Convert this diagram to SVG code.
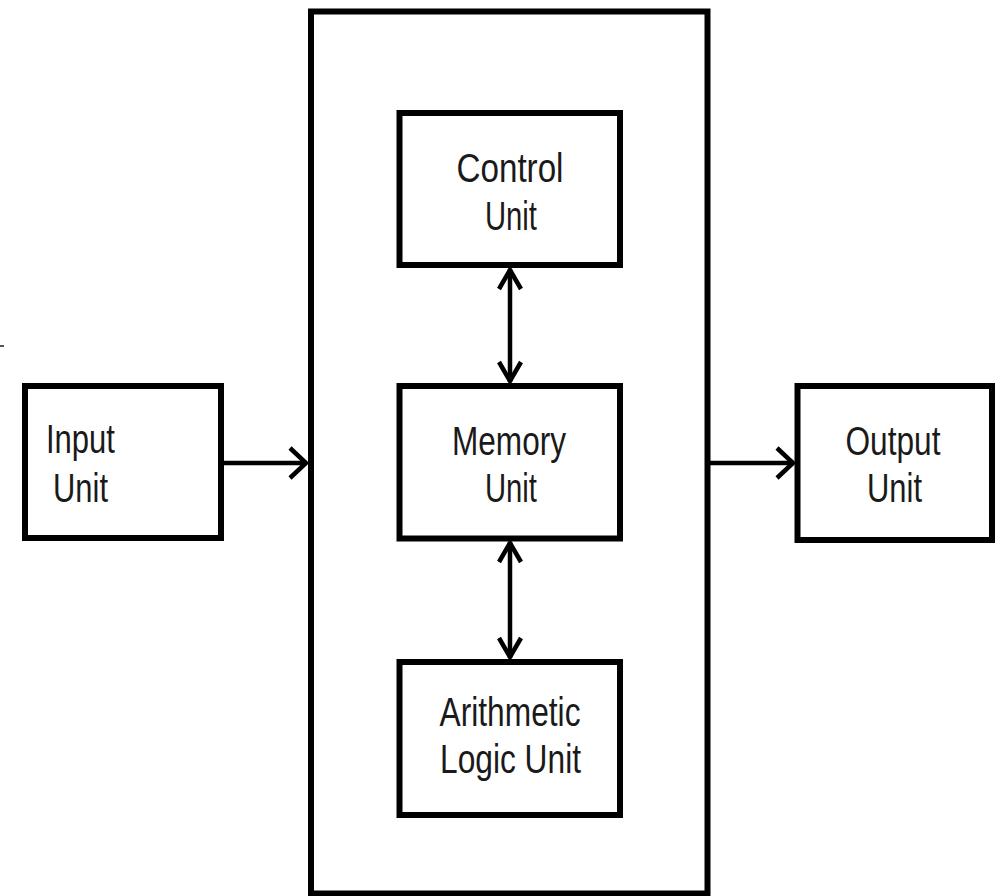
<svg xmlns="http://www.w3.org/2000/svg" width="995" height="896" viewBox="0 0 995 896">
  <style>
    .box { fill: #ffffff; stroke: #000000; stroke-width: 6; }
    .link { fill: none; stroke: #000000; stroke-width: 4.5; }
    .lbl { font-family: "Liberation Sans", Arial, sans-serif; font-size: 41px; fill: #1a1a1a; text-anchor: middle; }
  </style>
  <defs>
    <!-- open chevron heads -->
    <marker id="headH" markerUnits="userSpaceOnUse" viewBox="0 0 22 34" refX="20" refY="17" markerWidth="22" markerHeight="34" orient="auto-start-reverse">
      <path d="M3,2 L19,17 L3,32" fill="none" stroke="#000" stroke-width="4.5" stroke-linejoin="miter"/>
    </marker>
    <marker id="headV" markerUnits="userSpaceOnUse" viewBox="0 0 24 26" refX="22" refY="13" markerWidth="24" markerHeight="26" orient="auto-start-reverse">
      <path d="M2,2 L21,13 L2,24" fill="none" stroke="#000" stroke-width="4.5" stroke-linejoin="miter"/>
    </marker>
  </defs>

  <rect width="995" height="896" fill="#ffffff"/>
  <path d="M0,346 L4,346" stroke="#555" stroke-width="2"/>

  <g id="cpu">
    <rect class="box" x="311" y="11.5" width="396.5" height="882"/>
  </g>

  <g id="input-unit">
    <rect class="box" x="25" y="386" width="196" height="152"/>
    <text class="lbl" x="80.5" y="453" textLength="69" lengthAdjust="spacingAndGlyphs">Input</text>
    <text class="lbl" x="80.5" y="502" textLength="55" lengthAdjust="spacingAndGlyphs">Unit</text>
  </g>

  <g id="output-unit">
    <rect class="box" x="797.5" y="386" width="194.5" height="154"/>
    <text class="lbl" x="893" y="455" textLength="95" lengthAdjust="spacingAndGlyphs">Output</text>
    <text class="lbl" x="894.5" y="502" textLength="55" lengthAdjust="spacingAndGlyphs">Unit</text>
  </g>

  <g id="control-unit">
    <rect class="box" x="399.5" y="113" width="220.5" height="152"/>
    <text class="lbl" x="510" y="182" textLength="107" lengthAdjust="spacingAndGlyphs">Control</text>
    <text class="lbl" x="511" y="230" textLength="52" lengthAdjust="spacingAndGlyphs">Unit</text>
  </g>

  <g id="memory-unit">
    <rect class="box" x="399.5" y="386" width="220.5" height="152.5"/>
    <text class="lbl" x="509" y="455" textLength="114" lengthAdjust="spacingAndGlyphs">Memory</text>
    <text class="lbl" x="511" y="502" textLength="52" lengthAdjust="spacingAndGlyphs">Unit</text>
  </g>

  <g id="alu">
    <rect class="box" x="399.5" y="662" width="220.5" height="153"/>
    <text class="lbl" x="510" y="726" textLength="141" lengthAdjust="spacingAndGlyphs">Arithmetic</text>
    <text class="lbl" x="510.5" y="773" textLength="141" lengthAdjust="spacingAndGlyphs">Logic Unit</text>
  </g>

  <g id="connectors">
    <line class="link" x1="224" y1="463" x2="307" y2="463" marker-end="url(#headH)"/>
    <line class="link" x1="710" y1="463" x2="794" y2="463" marker-end="url(#headH)"/>
    <line class="link" x1="510" y1="269" x2="510" y2="382" marker-start="url(#headV)" marker-end="url(#headV)"/>
    <line class="link" x1="510" y1="542" x2="510" y2="658" marker-start="url(#headV)" marker-end="url(#headV)"/>
  </g>
</svg>
